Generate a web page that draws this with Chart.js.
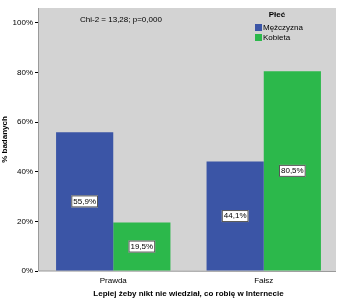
<!DOCTYPE html>
<html><head><meta charset="utf-8">
<script src="https://cdn.jsdelivr.net/npm/chart.js@4/dist/chart.umd.min.js"></script>
<style>html,body{margin:0;padding:0;background:#fff}#w{width:339px;height:300px}</style>
</head><body><div id="w"><canvas id="c"></canvas></div>
<script>
const categories = ["Prawda", "Fałsz"];
const seriesNames = ["Mężczyzna", "Kobieta"];
const menValues = [55.9, 44.1];
const womenValues = [19.5, 80.5];
const yTicks = [0, 20, 40, 60, 80, 100];
const statText = "Chi-2 = 13,28; p=0,000";
const legendTitle = "Płeć";
const xTitle = "Lepiej żeby nikt nie wiedział, co robię w Internecie";
const yTitle = "% badanych";

const BLUE = "#3b55a6", GREEN = "#2cb84b";
const FONT = "'Liberation Sans', Arial, sans-serif";

const decor = {
  id: "decor",
  beforeDraw(chart) {
    const {ctx, chartArea: a} = chart;
    ctx.save();
    ctx.fillStyle = "#d3d3d3";
    ctx.fillRect(a.left, a.top, a.right - a.left - 3, a.bottom - a.top);
    ctx.strokeStyle = "#9a9a9a";
    ctx.lineWidth = 1;
    ctx.beginPath();
    ctx.moveTo(a.left + 0.5, a.top); ctx.lineTo(a.left + 0.5, a.bottom);
    ctx.lineTo(a.right - 3, a.bottom + 0.5);
    ctx.stroke();
    ctx.restore();
  },
  afterDatasetsDraw(chart) {
    const {ctx} = chart;
    ctx.save();
    ctx.font = "8px " + FONT;
    ctx.textBaseline = "middle";
    chart.data.datasets.forEach((ds, di) => {
      chart.getDatasetMeta(di).data.forEach((bar, i) => {
        const txt = ds.data[i].toFixed(1).replace(".", ",") + "%";
        const y = (bar.y + bar.base) / 2;
        const w = ctx.measureText(txt).width + 4;
        ctx.fillStyle = "#fff";
        ctx.fillRect(bar.x - w / 2, y - 6, w, 12);
        ctx.strokeStyle = "#555";
        ctx.strokeRect(bar.x - w / 2 + 0.5, y - 5.5, w - 1, 11);
        ctx.fillStyle = "#000";
        ctx.textAlign = "center";
        ctx.fillText(txt, bar.x, y);
      });
    });
    ctx.textAlign = "left";
    ctx.fillText(statText, 80, 20);
    ctx.font = "bold 8px " + FONT;
    ctx.textAlign = "center";
    ctx.fillText(legendTitle, 277, 15);
    ctx.font = "8px " + FONT;
    ctx.textAlign = "left";
    const cols = [BLUE, GREEN];
    seriesNames.forEach((n, i) => {
      const y = 28 + i * 10;
      ctx.fillStyle = cols[i];
      ctx.fillRect(255, y - 4, 7, 7);
      ctx.fillStyle = "#000";
      ctx.fillText(n, 263, y);
    });
    ctx.restore();
  }
};

new Chart(document.getElementById("c"), {
  type: "bar",
  data: {
    labels: categories,
    datasets: [
      {label: seriesNames[0], data: menValues, backgroundColor: BLUE, borderWidth: 0},
      {label: seriesNames[1], data: womenValues, backgroundColor: GREEN, borderWidth: 0}
    ]
  },
  options: {
    responsive: true,
    maintainAspectRatio: false,
    animation: false,
    events: [],
    layout: {padding: {left: 0, right: 0, top: 8, bottom: 0}},
    plugins: {legend: {display: false}, tooltip: {enabled: false}},
    datasets: {bar: {categoryPercentage: 0.76, barPercentage: 1}},
    scales: {
      x: {
        afterFit(s) { s.height = 29; },
        grid: {display: false, drawTicks: false},
        border: {display: false},
        ticks: {color: "#000", font: {family: FONT, size: 8}, padding: 5},
        title: {display: true, text: xTitle, color: "#000", font: {family: FONT, size: 8, weight: "bold"}, padding: {top: 0, bottom: 1}}
      },
      y: {
        min: 0, max: 106,
        afterBuildTicks(s) { s.ticks = yTicks.map(v => ({value: v})); },
        afterFit(s) { s.width = 38; },
        grid: {display: true, drawOnChartArea: false, drawTicks: true, tickLength: 3, color: "#000"},
        border: {display: false},
        ticks: {color: "#000", font: {family: FONT, size: 8}, padding: 2, callback: v => v + "%"},
        title: {display: true, text: yTitle, color: "#000", font: {family: FONT, size: 8, weight: "bold"}, padding: {top: 0, bottom: 0}}
      }
    }
  },
  plugins: [decor]
});
</script>
</body></html>
